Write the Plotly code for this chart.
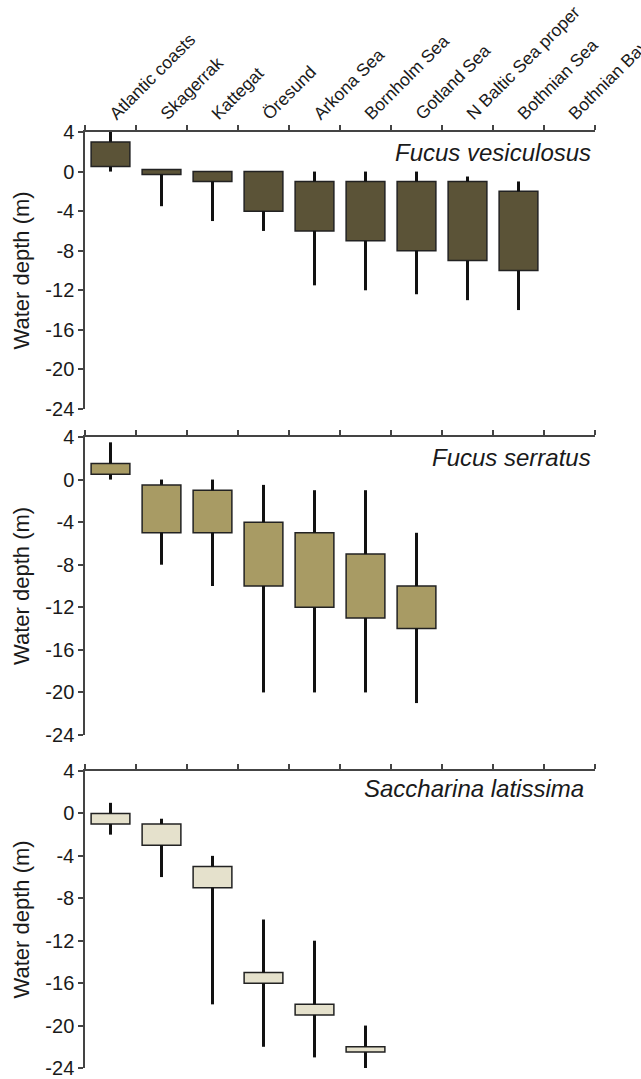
import plotly.graph_objects as go

regions = ["Atlantic coasts", "Skagerrak", "Kattegat", "Öresund", "Arkona Sea",
           "Bornholm Sea", "Gotland Sea", "N Baltic Sea proper", "Bothnian Sea", "Bothnian Bay"]

species = ["Fucus vesiculosus", "Fucus serratus", "Saccharina latissima"]

# Fucus vesiculosus
fv_box_top = [3, 0.2, 0, 0, -1, -1, -1, -1, -2]
fv_box_bot = [0.5, -0.3, -1, -4, -6, -7, -8, -9, -10]
fv_wh_top = [4, 0.2, 0, 0, 0, 0, 0, -0.5, -1]
fv_wh_bot = [0, -3.5, -5, -6, -11.5, -12, -12.4, -13, -14]

# Fucus serratus
fs_box_top = [1.5, -0.5, -1, -4, -5, -7, -10]
fs_box_bot = [0.5, -5, -5, -10, -12, -13, -14]
fs_wh_top = [3.5, 0, 0, -0.5, -1, -1, -5]
fs_wh_bot = [0, -8, -10, -20, -20, -20, -21]

# Saccharina latissima
sl_box_top = [0, -1, -5, -15, -18, -22]
sl_box_bot = [-1, -3, -7, -16, -19, -22.5]
sl_wh_top = [1, -0.5, -4, -10, -12, -20]
sl_wh_bot = [-2, -6, -18, -22, -23, -24]

y_ticks = [4, 0, -4, -8, -12, -16, -20, -24]

fills = ["#5b5337", "#a89b64", "#e5e1cc"]

panels = [
    (fv_box_top, fv_box_bot, fv_wh_top, fv_wh_bot),
    (fs_box_top, fs_box_bot, fs_wh_top, fs_wh_bot),
    (sl_box_top, sl_box_bot, sl_wh_top, sl_wh_bot),
]

W, H = 641, 1079
# pixel positions of y=4 and y=-24 for each panel
panel_px = [(132, 409), (437, 735), (771, 1068)]
title_py = [152, 457, 788]
title_px = [593, 593, 586]
left_px, right_px = 85, 595

fig = go.Figure()

font_family = "Liberation Sans, Arial, Helvetica, sans-serif"

for i, (bt, bb, wt, wb) in enumerate(panels):
    n = len(bt)
    cats = regions[:n]
    xa = "x" if i == 0 else f"x{i+1}"
    ya = "y" if i == 0 else f"y{i+1}"
    # whisker segments (outside the box)
    wx, wy = [], []
    for c, t, b, ht, lo in zip(cats, bt, bb, wt, wb):
        if ht > t:
            wx += [c, c, None]
            wy += [t, ht, None]
        if lo < b:
            wx += [c, c, None]
            wy += [b, lo, None]
    fig.add_trace(go.Scatter(x=wx, y=wy, mode="lines", xaxis=xa, yaxis=ya,
                             line=dict(color="#111111", width=3), showlegend=False,
                             hoverinfo="skip"))
    fig.add_trace(go.Bar(x=cats, y=[t - b for t, b in zip(bt, bb)], base=bb,
                         xaxis=xa, yaxis=ya, width=0.76,
                         marker=dict(color=fills[i], line=dict(color="#222222", width=1.5)),
                         showlegend=False))

layout = dict(
    width=W, height=H,
    margin=dict(l=left_px, r=W - right_px, t=0, b=0),
    plot_bgcolor="white", paper_bgcolor="white",
    font=dict(family=font_family, color="#1a1a1a"),
    showlegend=False,
)

annotations = []
for i in range(3):
    top, bot = panel_px[i]
    dom = [1 - bot / H, 1 - top / H]
    xk = "xaxis" if i == 0 else f"xaxis{i+1}"
    yk = "yaxis" if i == 0 else f"yaxis{i+1}"
    ya = "y" if i == 0 else f"y{i+1}"
    layout[xk] = dict(
        type="category", categoryorder="array", categoryarray=regions,
        range=[-0.5, len(regions) - 0.5], side="top", anchor=ya,
        tickson="boundaries", ticks="outside", ticklen=5, tickwidth=1.5,
        tickcolor="#444444", showline=True, linecolor="#444444", linewidth=1.5,
        showgrid=False, zeroline=False, showticklabels=(i == 0),
        tickangle=-45, tickfont=dict(size=17.5, family=font_family, color="#1a1a1a"),
        automargin=False, fixedrange=True,
        tickvals=regions, ticktext=regions,
    )
    if i > 0:
        layout[xk]["matches"] = "x"
    layout[yk] = dict(
        domain=dom, range=[-24, 4], tickvals=y_ticks, ticktext=[str(v) for v in y_ticks],
        ticks="outside", ticklen=5, tickwidth=1.5, tickcolor="#444444",
        showline=True, linecolor="#444444", linewidth=1.5, showgrid=False,
        zeroline=False, tickfont=dict(size=20, family=font_family, color="#1a1a1a"),
        automargin=False, anchor="x" if i == 0 else f"x{i+1}",
    )
    annotations.append(dict(
        text="Water depth (m)", xref="paper", yref="paper",
        x=(21 - left_px) / (right_px - left_px), y=1 - (top + bot) / 2 / H,
        xanchor="center", yanchor="middle", textangle=-90, showarrow=False,
        font=dict(size=22, family=font_family, color="#1a1a1a"),
    ))
    annotations.append(dict(
        text=f"<i>{species[i]}</i>", xref="paper", yref="paper",
        x=(title_px[i] - left_px) / (right_px - left_px), y=1 - title_py[i] / H,
        xanchor="right", yanchor="middle", showarrow=False,
        font=dict(size=24, family=font_family, color="#1a1a1a"),
    ))

layout["annotations"] = annotations
layout["bargap"] = 0.24
fig.update_layout(**layout)

fig.write_html("out.html", config={"displayModeBar": False})
